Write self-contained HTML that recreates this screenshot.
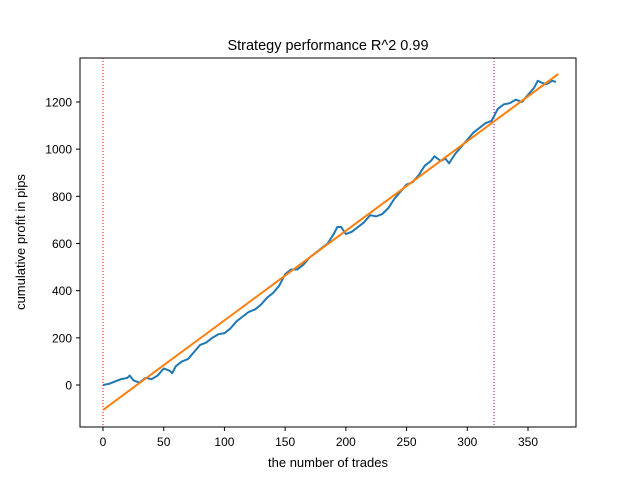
<!DOCTYPE html>
<html><head><meta charset="utf-8"><style>body{margin:0;background:#fff}svg{display:block;font-family:"Liberation Sans","DejaVu Sans",sans-serif}</style></head>
<body>
<svg id="c" width="640" height="480">
<rect width="640" height="480" fill="#fff"/>
<text x="328" y="50" text-anchor="middle" font-size="14.5">Strategy performance R^2 0.99</text>
<g id="plot"></g>
<rect x="80" y="58" width="496" height="369" fill="none" stroke="#000" stroke-width="1"/>
<text x="328" y="467" text-anchor="middle" font-size="13">the number of trades</text>
<text transform="translate(25,242) rotate(-90)" text-anchor="middle" font-size="13">cumulative profit in pips</text>
</svg>
<script>
const trades=[0,5,10,15,20,22,25,30,35,40,45,50,55,57,60,65,70,75,80,85,90,95,100,105,110,115,120,125,130,135,140,145,150,155,160,165,170,175,180,185,190,193,196,200,205,210,215,220,225,230,235,240,245,250,255,260,265,270,273,278,282,285,290,295,300,305,310,315,320,325,330,335,340,345,350,355,358,362,365,370,373];
const profit=[0,5,15,25,30,40,20,10,30,25,40,70,60,50,80,100,110,140,170,180,200,215,220,240,270,290,310,320,340,370,390,420,470,490,490,510,540,560,580,600,640,670,670,640,650,670,690,720,715,725,750,790,820,850,860,890,930,950,970,950,960,940,980,1010,1040,1070,1090,1110,1120,1170,1190,1195,1210,1200,1230,1260,1290,1280,1275,1290,1285];
const fitX=[0,375];
const fitY=[-106,1319];
const vlines=[0,322];
const xTicks=[0,50,100,150,200,250,300,350];
const yTicks=[0,200,400,600,800,1000,1200];
const X=t=>103+t*(528-103)/350;
const Y=v=>385-v*(385-102)/1200;
const ns="http://www.w3.org/2000/svg";
const svg=document.getElementById('c'), g=document.getElementById('plot');
function mk(tag,attrs,parent){const e=document.createElementNS(ns,tag);for(const k in attrs)e.setAttribute(k,attrs[k]);(parent||g).appendChild(e);return e;}
vlines.forEach((t,i)=>{const l=mk('line',{x1:X(t),x2:X(t),y1:58,y2:427,stroke:i==0?'#ff0000':'#9900bb','stroke-width':1,'stroke-dasharray':'1,2'});

});
const p=mk('polyline',{points:trades.map((t,i)=>X(t)+','+Y(profit[i])).join(' '),fill:'none',stroke:'#1f77b4','stroke-width':2,'stroke-linejoin':'round'});


const f=mk('line',{x1:X(fitX[0]),y1:Y(fitY[0]),x2:X(fitX[1]),y2:Y(fitY[1]),stroke:'#ff7f0e','stroke-width':2});


xTicks.forEach(t=>{const l=mk('line',{x1:X(t),x2:X(t),y1:427,y2:431,stroke:'#000'},svg);


const tx=mk('text',{x:X(t),y:446,'text-anchor':'middle','font-size':12},svg);tx.textContent=t;

});
yTicks.forEach(v=>{const l=mk('line',{x1:76,x2:80,y1:Y(v),y2:Y(v),stroke:'#000'},svg);


const tx=mk('text',{x:72,y:Y(v)+4.5,'text-anchor':'end','font-size':12},svg);tx.textContent=v;

});
</script>
</body></html>
